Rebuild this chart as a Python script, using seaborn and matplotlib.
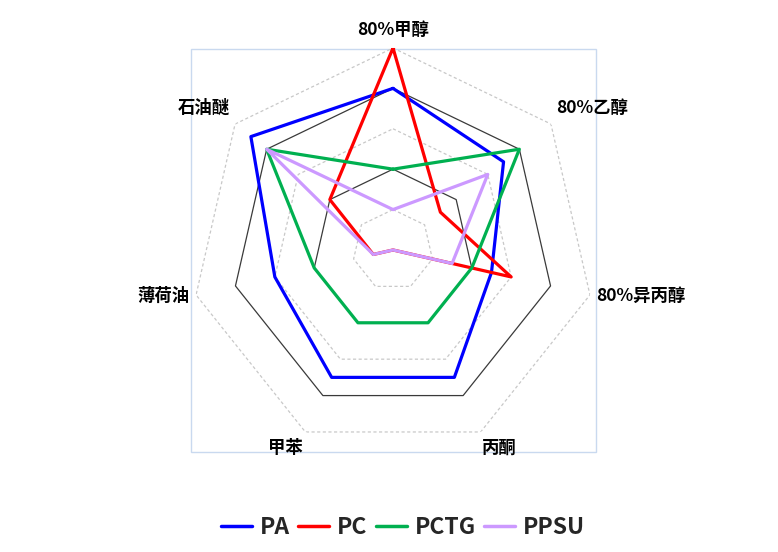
import numpy as np
import pandas as pd
import matplotlib
matplotlib.use('Agg')
import matplotlib.pyplot as plt
from matplotlib.patches import Rectangle
from matplotlib.lines import Line2D
import seaborn as sns

categories = ['80%甲醇', '80%乙醇', '80%异丙醇', '丙酮', '甲苯', '薄荷油', '石油醚']
pa = [4.0, 3.5, 2.5, 3.5, 3.5, 3.0, 4.5]
pc = [5.0, 1.5, 3.0, 0.0, 0.0, 0.5, 2.0]
pctg = [2.0, 4.0, 2.0, 2.0, 2.0, 2.0, 4.0]
ppsu = [1.0, 3.0, 1.5, 0.0, 0.0, 0.5, 4.0]
series_names = ['PA', 'PC', 'PCTG', 'PPSU']
colors = ['#0000FF', '#FF0000', '#00B050', '#CC99FF']

sns.set_style('white')
plt.rcParams['font.family'] = ['Noto Sans CJK SC', 'DejaVu Sans']

n = len(categories)
theta = np.linspace(0, 2 * np.pi, n + 1)  # closed loop, last = 2pi

rows = []
for name, vals in zip(series_names, [pa, pc, pctg, ppsu]):
    for t, v in zip(theta, vals + vals[:1]):
        rows.append({'theta': t, 'value': v, 'material': name})
df = pd.DataFrame(rows)

fig = plt.figure(figsize=(7.78, 5.52), dpi=100)
ax = fig.add_axes([0.2455, 0.1812, 0.5193, 0.7319], projection='polar')
ax.set_theta_zero_location('N')
ax.set_theta_direction(-1)
ax.patch.set_alpha(0)

# plot area frame (behind everything in the axes)
frame = Rectangle((0.2451, 0.1817), 0.5206, 0.729, transform=fig.transFigure,
                  fill=False, edgecolor='#C9D9EF', lw=1.0, zorder=0.5, clip_on=False)
ax.add_artist(frame)

# heptagon grid
for lvl in range(1, 6):
    if lvl % 2 == 0:
        ax.plot(theta, [lvl] * (n + 1), color='#3a3a3a', lw=0.9, zorder=1)
    else:
        ax.plot(theta, [lvl] * (n + 1), color='#C8C8C8', lw=0.9, ls=(0, (2.5, 2)), zorder=1)

sns.lineplot(data=df, x='theta', y='value', hue='material', hue_order=series_names,
             palette=colors, sort=False, estimator=None, lw=2.3, ax=ax, legend=False, zorder=3)

ax.set_ylim(0, 5)
ax.set_xticks([])
ax.set_yticks([])
ax.grid(False)
ax.spines['polar'].set_visible(False)
ax.set_xlabel('')
ax.set_ylabel('')

# category labels
offsets = [(0, 18), (41, 16), (51, -1), (19, -16), (-20, -16), (-33, -1), (-31, 16)]
for t, lab, off in zip(theta[:-1], categories, offsets):
    ax.annotate(lab, xy=(t, 5), xytext=off, textcoords='offset pixels',
                ha='center', va='center', fontsize=12.5, fontweight='bold', color='black',
                zorder=5, annotation_clip=False)

handles = [Line2D([], [], color=c, lw=2.5) for c in colors]
fig.legend(handles, series_names, loc='center', bbox_to_anchor=(0.518, 0.0435), ncol=4,
           frameon=False, prop={'size': 16.5, 'weight': 'bold'},
           handlelength=1.35, handletextpad=0.35, columnspacing=0.35)

fig.savefig('out.png', dpi=100)
